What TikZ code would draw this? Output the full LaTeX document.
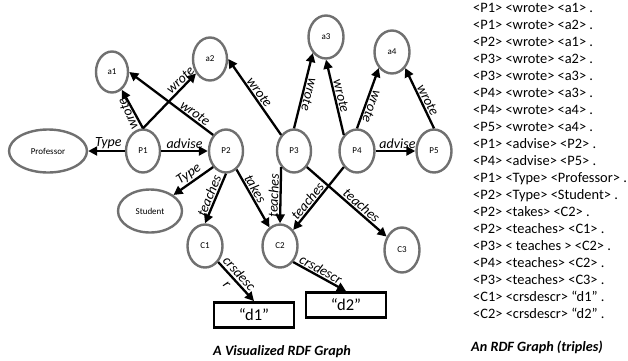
\documentclass[tikz,border=0pt]{standalone}
\usepackage{fontspec}
\setmainfont{Carlito}
\usetikzlibrary{arrows.meta,shapes.geometric}
\definecolor{nodegray}{HTML}{707070}
\begin{document}
\begin{tikzpicture}[x=1pt,y=-1pt,
  ent/.style={ellipse, draw=nodegray, line width=2.4pt, fill=white, inner sep=0pt,
    minimum width=34pt, minimum height=43pt, font=\fontsize{9}{10}\selectfont},
  lit/.style={rectangle, draw=black, line width=2.8pt, fill=white,
    minimum width=80pt, minimum height=25pt, font=\fontsize{16.5}{17}\selectfont},
  rel/.style={-{Triangle[length=9pt,width=9pt]}, line width=2.3pt, black},
  lbl/.style={font=\fontsize{14}{16}\selectfont\itshape, inner sep=1pt},
  captext/.style={font=\fontsize{14.2}{16}\selectfont\bfseries\itshape, inner sep=0pt},
]
\useasboundingbox (0,0) rectangle (628,360);
% entity nodes
\node[ent, minimum width=32pt, minimum height=41pt] (a1) at (112,72) {a1};
\node[ent] (a2) at (210,59) {a2};
\node[ent, minimum width=35pt] (a3) at (326,37) {a3};
\node[ent, minimum width=35pt] (a4) at (392,52) {a4};
\node[ent, minimum width=78pt] (Prof) at (48,151) {Professor};
\node[ent] (P1) at (143,151) {P1};
\node[ent] (P2) at (226,151) {P2};
\node[ent] (P3) at (294,151) {P3};
\node[ent, minimum width=35pt] (P4) at (357,151) {P4};
\node[ent, minimum width=35pt] (P5) at (434,151) {P5};
\node[ent, minimum width=64pt] (Student) at (150,211) {Student};
\node[ent, minimum width=35pt] (C1) at (205,246) {C1};
\node[ent, minimum width=35pt] (C2) at (280,246) {C2};
\node[ent, minimum width=35pt, minimum height=45pt] (C3) at (402,250) {C3};
\node[lit] (d1) at (254,315) {“d1”};
\node[lit] (d2) at (346,305) {“d2”};
% edges
\draw[rel] (P1.north) -- node[lbl,pos=.43,rotate=113,above]{wrote} (a1);
\draw[rel] (P1.north) -- node[lbl,pos=.79,rotate=44,above]{wrote} (a2);
\draw[rel] (P2.north west) -- node[lbl,pos=.26,rotate=-36,above]{wrote} (a1.east);
\draw[rel] (P1) -- node[lbl,pos=.5,above]{advise} (P2);
\draw[rel] (P1) -- node[lbl,pos=.45,above]{Type} (Prof);
\draw[rel] (P2.south west) -- node[lbl,pos=.5,rotate=34,above]{Type} (Student.north east);
\draw[rel] (P2.south) -- node[lbl,pos=.5,rotate=68,above]{teaches} (C1.north);
\draw[rel] (P2) -- node[lbl,pos=.39,rotate=-60,above]{takes} (C2);
\draw[rel] (P3.north west) -- node[lbl,pos=.51,rotate=-54,above]{wrote} (a2.east);
\draw[rel] (P3.north) -- node[lbl,pos=.47,rotate=-104,above]{wrote} (a3.south west);
\draw[rel] (P4.north west) -- node[lbl,pos=.5,rotate=-76,above]{wrote} (a3.south);
\draw[rel] (P4.north) -- node[lbl,pos=.4,rotate=-110,above]{wrote} (a4.south west);
\draw[rel] (P5.north) -- node[lbl,pos=.42,rotate=-64,above]{wrote} (a4.south east);
\draw[rel] (P4) -- node[lbl,pos=.55,above]{advise} (P5);
\draw[rel] (P3.south west) -- node[lbl,pos=.51,rotate=88,above]{teaches} (C2.north);
\draw[rel] (P4.south west) -- node[lbl,pos=.61,rotate=51,above]{teaches} (C2.north east);
\draw[rel] (P3.south east) -- node[lbl,pos=.63,rotate=-41,above]{teaches} (C3);
\draw[rel] (C1.south east) -- node[lbl,pos=.43,rotate=-48,align=center]{crsdesc\\r} (d1.north);
\draw[rel] (C2.south east) -- node[lbl,pos=.46,rotate=-29,above]{crsdescr} (d2.north);
% captions
\node[captext] (capL) at (282,352) {A Visualized RDF Graph};
\node[captext] (capR) at (537,347) {An RDF Graph (triples)};
% triples list
\node[anchor=north west, inner sep=0pt, align=left, font=\fontsize{14.4}{17}\selectfont] (triples) at (473,3) {%
<P1> <wrote> <a1> .\\
<P1> <wrote> <a2> .\\
<P2> <wrote> <a1> .\\
<P3> <wrote> <a2> .\\
<P3> <wrote> <a3> .\\
<P4> <wrote> <a3> .\\
<P4> <wrote> <a4> .\\
<P5> <wrote> <a4> .\\
<P1> <advise> <P2> .\\
<P4> <advise> <P5> .\\
<P1> <Type> <Professor> .\\
<P2> <Type> <Student> .\\
<P2> <takes> <C2> .\\
<P2> <teaches> <C1> .\\
<P3> < teaches > <C2> .\\
<P4> <teaches> <C2> .\\
<P3> <teaches> <C3> .\\
<C1> <crsdescr> “d1” .\\
<C2> <crsdescr> “d2” .};
\end{tikzpicture}
\end{document}
